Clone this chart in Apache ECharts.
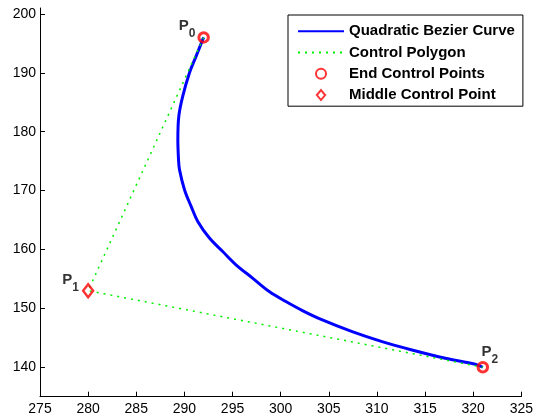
<!DOCTYPE html>
<html>
<head>
<meta charset="utf-8">
<script src="https://cdn.jsdelivr.net/npm/echarts@6/dist/echarts.min.js"></script>
<style>
  html, body { margin: 0; padding: 0; background: #fff; }
  #chart { width: 536px; height: 416px; }
</style>
</head>
<body>
<div id="chart"></div>
<script>
// Sampled points along the quadratic Bezier curve
const curveX = [292, 291.84, 291.22, 290.53, 289.83, 289.42, 289.32, 289.39, 289.49, 290.01, 290.70, 291.39, 292.60, 293.98, 295.36, 297.08, 298.81, 300.54, 302.26, 304.33, 307.43, 310.54, 313.64, 317.10, 320.21, 321];
const curveY = [196, 195.37, 192.82, 190.00, 186.02, 182.62, 178.66, 175.26, 173.55, 170.15, 167.31, 164.76, 161.94, 159.66, 157.40, 155.14, 152.86, 151.16, 149.63, 148.04, 146.05, 144.35, 142.94, 141.53, 140.51, 140];

// Control points P0, P1, P2
const controlX = [292, 280, 321];
const controlY = [196, 153, 140];
const controlNames = ['0', '1', '2'];

// Axis ticks
const xTicks = [275, 280, 285, 290, 295, 300, 305, 310, 315, 320, 325];
const yTicks = [140, 150, 160, 170, 180, 190, 200];

const seriesNames = ['Quadratic Bezier Curve', 'Control Polygon', 'End Control Points', 'Middle Control Point'];

const FONT = '"Liberation Sans", Arial, Helvetica, sans-serif';

const curveData = curveX.map((x, i) => [x, curveY[i]]);
const polygonData = controlX.map((x, i) => [x, controlY[i]]);

// "P" sits high, the index digit sits low (subscript)
const labelRich = {
  p: { fontSize: 15, fontWeight: 'bold', color: '#000', fontFamily: FONT, lineHeight: 15, padding: [0, 0, 8, 0] },
  s: { fontSize: 12, fontWeight: 'bold', color: '#000', fontFamily: FONT, lineHeight: 12, padding: [8, 0, 0, 0] }
};

function pointLabel(i, position, offset) {
  return {
    show: true,
    position: position,
    offset: offset,
    formatter: '{p|P}{s|' + controlNames[i] + '}',
    rich: labelRich
  };
}

const endData = [
  { value: polygonData[0], label: pointLabel(0, 'left', [3, -8]) },
  { value: polygonData[2], label: pointLabel(2, 'top', [7, 7.5]) }
];
const middleData = [
  { value: polygonData[1], label: pointLabel(1, 'left', [2, -6.7]) }
];

const chart = echarts.init(document.getElementById('chart'), null, { renderer: 'canvas' });

chart.setOption({
  animation: false,
  backgroundColor: '#fff',
  textStyle: { fontFamily: FONT },
  grid: { left: 40, right: 13, top: 8, bottom: 19.3, containLabel: false },
  xAxis: {
    type: 'value',
    min: xTicks[0],
    max: xTicks[xTicks.length - 1],
    interval: 5,
    axisLine: { show: true, lineStyle: { color: '#000', width: 1 } },
    axisTick: { show: true, inside: true, length: 5, lineStyle: { color: '#000' } },
    axisLabel: { color: '#000', fontSize: 14, fontFamily: FONT, margin: 5 },
    splitLine: { show: false }
  },
  yAxis: {
    type: 'value',
    min: 135,
    max: 201,
    axisLine: { show: true, lineStyle: { color: '#000', width: 1 } },
    axisTick: { show: true, inside: true, length: 5, customValues: yTicks, lineStyle: { color: '#000' } },
    axisLabel: { color: '#000', fontSize: 14, fontFamily: FONT, margin: 4, customValues: yTicks },
    splitLine: { show: false }
  },
  legend: {
    orient: 'vertical',
    left: 288,
    top: 15,
    padding: [5.5, 8, 0.5, 9],
    itemGap: 0,
    itemWidth: 46,
    itemHeight: 10,
    borderColor: '#000',
    borderWidth: 1,
    backgroundColor: '#fff',
    textStyle: { fontSize: 15, fontWeight: 'bold', color: '#000', fontFamily: FONT, lineHeight: 21.3 },
    data: [
      { name: seriesNames[0], itemStyle: { opacity: 0 } },
      { name: seriesNames[1], itemStyle: { opacity: 0 } },
      { name: seriesNames[2], icon: 'circle' },
      { name: seriesNames[3], icon: 'path://M0,-6L5,0L0,6L-5,0Z' }
    ]
  },
  series: [
    {
      name: seriesNames[0],
      type: 'line',
      data: curveData,
      symbol: 'none',
      smooth: 0.35,
      lineStyle: { color: '#0000ff', width: 3 },
      itemStyle: { color: '#0000ff' },
      z: 2
    },
    {
      name: seriesNames[1],
      type: 'line',
      data: polygonData,
      symbol: 'none',
      lineStyle: { color: '#00ee00', width: 1.5, type: [2, 5] },
      itemStyle: { color: '#00ee00' },
      z: 3
    },
    {
      name: seriesNames[2],
      type: 'scatter',
      data: endData,
      symbol: 'circle',
      symbolSize: 9.5,
      itemStyle: { color: 'rgba(0,0,0,0)', borderColor: '#ff0000', borderWidth: 3 },
      z: 4
    },
    {
      name: seriesNames[3],
      type: 'scatter',
      data: middleData,
      symbol: 'diamond',
      symbolSize: [10, 13],
      itemStyle: { color: 'rgba(0,0,0,0)', borderColor: '#ff0000', borderWidth: 2.5 },
      z: 4
    }
  ]
});
</script>
</body>
</html>
